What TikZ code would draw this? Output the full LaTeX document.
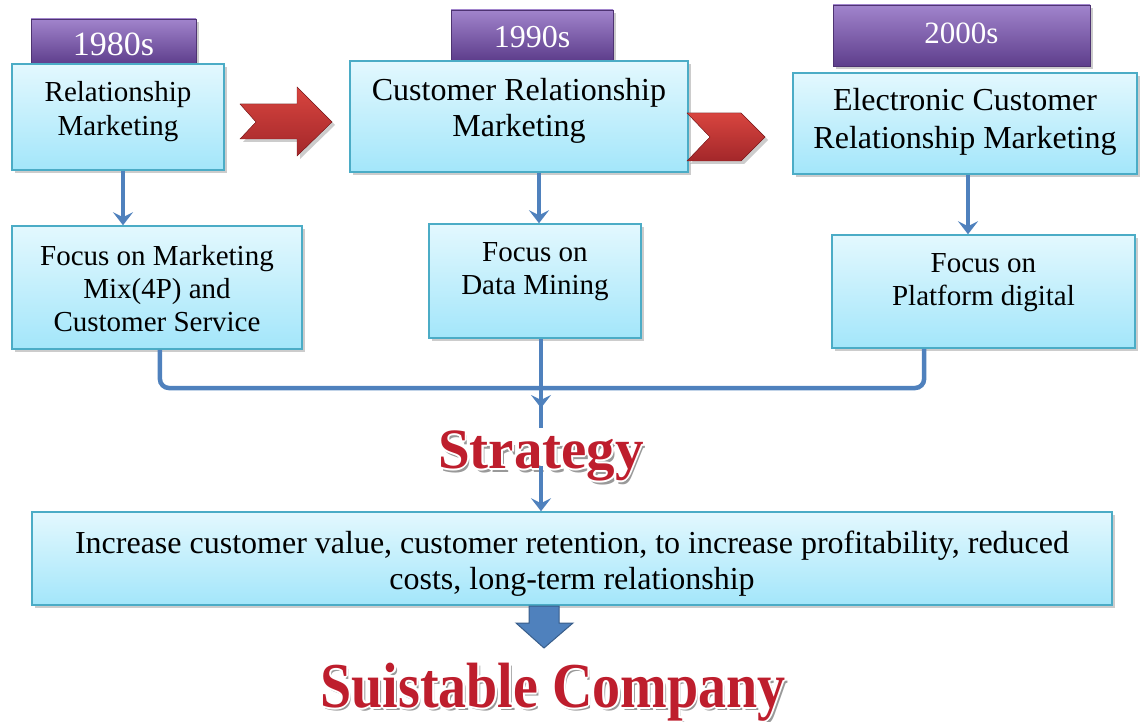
\documentclass[tikz,border=0pt]{standalone}
\usepackage{fontspec}
\usepackage{graphicx}
\setmainfont{Liberation Serif}
\usetikzlibrary{shadows,arrows.meta,calc}
\definecolor{bxtop}{HTML}{E3F8FE}
\definecolor{bxbot}{HTML}{A3E6FA}
\definecolor{bxline}{HTML}{4BACC6}
\definecolor{ptop}{HTML}{A184CC}
\definecolor{pbot}{HTML}{5E3E8C}
\definecolor{pline}{HTML}{4E3372}
\definecolor{rtop}{HTML}{D8453F}
\definecolor{rbot}{HTML}{A3272A}
\definecolor{blu}{HTML}{4F81BD}
\definecolor{bluline}{HTML}{385D8A}
\definecolor{wred}{HTML}{BE1E2D}
\newcommand\myfs[2]{\fontsize{#1}{#2}\selectfont}
\newcommand\fancytext[4]{% name, position, font, text
  \node[inner sep=0pt,text=black!40,font=#3] at ($(#2)+(2.5,3.5)$) {#4};
  \foreach \ang in {0,45,...,315}{
    \node[inner sep=0pt,text=white,font=#3] at ($(#2)+(\ang:2)$) {#4};
  }
  \node[inner sep=0pt,text=wred,font=#3] (#1) at (#2) {#4};
}
\begin{document}
\begin{tikzpicture}[x=1pt,y=-1pt,
  shd/.style={drop shadow={shadow xshift=3pt,shadow yshift=-3pt,opacity=0.4}},
  box/.style={draw=bxline,line width=1.5pt,top color=bxtop,bottom color=bxbot,shd,inner sep=0pt},
  tab/.style={draw=pline,line width=0.6pt,top color=ptop,bottom color=pbot,shd,inner sep=0pt,text=white},
  txt/.style={align=center,text=black},
  bluearrow/.style={draw=blu,line width=4.5pt,-{Stealth[length=13pt,width=20pt,inset=5pt]}},
  blueline/.style={draw=blu,line width=4.5pt},
  redarrow/.style={top color=rtop,bottom color=rbot,draw=rbot!80!black,line width=0.4pt,shd},
  blockarrow/.style={fill=blu,draw=bluline,line width=1pt}]
\useasboundingbox (0,0) rectangle (1144,722);

% year tabs
\node[tab,minimum width=165,minimum height=45,label={[text=white,font=\myfs{34}{34},yshift=-3pt]center:1980s}] (t1) at (113.5,41.5) {};
\node[tab,minimum width=162,minimum height=50,label={[text=white,font=\myfs{32}{32},yshift=-2pt]center:1990s}] (t2) at (532,35) {};
\node[tab,minimum width=257,minimum height=61,label={[text=white,font=\myfs{31}{31},yshift=2pt]center:2000s}] (t3) at (961.5,35.5) {};

% top boxes
\node[box,minimum width=212,minimum height=106,label={[txt,font=\myfs{29}{34},yshift=5pt]center:Relationship\\Marketing}] (b1) at (118,117) {};
\node[box,minimum width=338,minimum height=111,label={[txt,font=\myfs{32}{36},yshift=6pt]center:Customer Relationship\\Marketing}] (b2) at (519,116.5) {};
\node[box,minimum width=344,minimum height=101,label={[txt,font=\myfs{32}{38},yshift=2pt]center:Electronic Customer\\Relationship Marketing}] (b3) at (965,123.5) {};

% focus boxes
\node[box,minimum width=290,minimum height=123,label={[txt,font=\myfs{29}{33},yshift=-1pt]center:Focus on Marketing\\Mix(4P) and\\Customer Service}] (b4) at (157,287.5) {};
\node[box,minimum width=212,minimum height=114,label={[txt,font=\myfs{29}{33},yshift=9pt]center:Focus on\\Data Mining}] (b5) at (535,281) {};
\node[box,minimum width=303,minimum height=113,label={[txt,font=\myfs{29}{33},yshift=9pt]center:Focus on\\Platform digital}] (b6) at (983.5,291.5) {};

% result box
\node[box,minimum width=1080,minimum height=93,label={[txt,font=\myfs{32}{36},yshift=-5pt]center:Increase customer value, customer retention, to increase profitability, reduced\\costs, long-term relationship}] (b7) at (572,558.5) {};

% red arrows
\fill[redarrow] (240,104) -- (256,122) -- (240,139) -- (297,139) -- (297,156) -- (332,122) -- (297,87) -- (297,104) -- cycle;
\fill[redarrow] (687,113) -- (741,113) -- (765,137) -- (741,161) -- (687,161) -- (710,137) -- cycle;

% down arrows
\coordinate (a1) at (123,0);
\coordinate (a2) at (539,0);
\coordinate (a3) at (968,0);
\draw[bluearrow] (b1.south -| a1) -- (b4.north -| a1);
\draw[bluearrow] (b2.south -| a2) -- (b5.north -| a2);
\draw[bluearrow] (b3.south -| a3) -- (b6.north -| a3);

% bracket
\coordinate (bm) at (541,388);
\coordinate (b6l) at ($(b6.south west)!0.305!(b6.south east)$);
\coordinate (b4l) at ($(b4.south west)!0.51!(b4.south east)$);
\draw[blueline,rounded corners=9pt] (b4l) |- (bm) -| (b6l);
\coordinate (mtip) at (541,408);
\coordinate (mend) at (541,428);
\draw[bluearrow] (b5.south -| bm) -- (mtip);
\draw[blueline] (bm) -- (mend);

% strategy
\fancytext{strat}{541,456}{\myfs{57}{57}\bfseries}{Strategy}
\coordinate (stop) at (541,466);
\draw[bluearrow] (stop) -- (b7.north -| stop);

% block arrow
\fill[blockarrow] (529,606) -- (559,606) -- (559,623) -- (573,623) -- (544,648) -- (516,623) -- (529,623) -- cycle;

% suitable company
\fancytext{comp}{553,692}{\myfs{64}{64}\bfseries}{\scalebox{0.875}[1]{Suistable Company}}
\end{tikzpicture}
\end{document}
